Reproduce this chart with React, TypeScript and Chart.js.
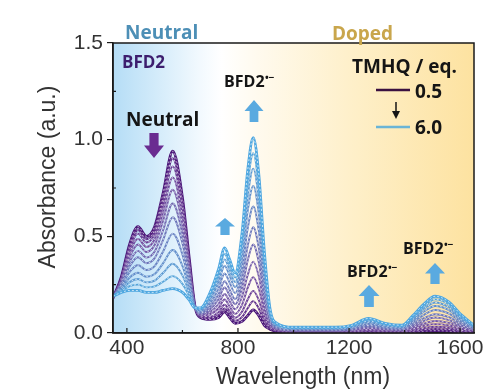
import React, { useEffect, useRef } from 'react';
import { Chart, registerables } from 'chart.js';

Chart.register(...registerables);

// Wavelength grid (nm)
const wavelengths = [350, 380, 410, 440, 470, 500, 530, 565, 600, 625, 645, 665, 700, 730, 752, 770, 790, 815, 835, 855, 875, 895, 915, 940, 1000, 1150, 1210, 1270, 1330, 1390, 1430, 1470, 1510, 1560, 1600, 1650];

// Absorbance spectra for TMHQ equivalents 0.5 ... 6.0
const eq05 = [0.18, 0.29, 0.46, 0.55, 0.50, 0.55, 0.72, 0.94, 0.70, 0.38, 0.14, 0.08, 0.07, 0.08, 0.11, 0.08, 0.05, 0.06, 0.09, 0.12, 0.09, 0.04, 0.02, 0.01, 0.005, 0.005, 0.005, 0.005, 0.005, 0.005, 0.005, 0.01, 0.012, 0.01, 0.005, 0.005];
const eq10 = [0.18, 0.286, 0.448, 0.533, 0.485, 0.533, 0.695, 0.904, 0.675, 0.369, 0.14, 0.083, 0.077, 0.093, 0.127, 0.095, 0.063, 0.083, 0.128, 0.165, 0.127, 0.059, 0.026, 0.012, 0.006, 0.006, 0.007, 0.009, 0.007, 0.007, 0.009, 0.017, 0.021, 0.018, 0.01, 0.007];
const eq15 = [0.18, 0.281, 0.434, 0.514, 0.468, 0.513, 0.665, 0.862, 0.646, 0.357, 0.139, 0.086, 0.085, 0.108, 0.146, 0.113, 0.079, 0.111, 0.173, 0.218, 0.17, 0.082, 0.032, 0.014, 0.008, 0.008, 0.009, 0.013, 0.01, 0.009, 0.014, 0.025, 0.032, 0.027, 0.015, 0.009];
const eq20 = [0.18, 0.275, 0.414, 0.487, 0.445, 0.485, 0.625, 0.805, 0.607, 0.34, 0.138, 0.09, 0.097, 0.128, 0.173, 0.137, 0.099, 0.147, 0.233, 0.289, 0.229, 0.112, 0.041, 0.018, 0.01, 0.01, 0.012, 0.018, 0.014, 0.012, 0.021, 0.037, 0.046, 0.039, 0.023, 0.012];
const eq25 = [0.18, 0.268, 0.393, 0.458, 0.419, 0.455, 0.58, 0.741, 0.563, 0.321, 0.137, 0.094, 0.109, 0.15, 0.202, 0.164, 0.123, 0.189, 0.30, 0.369, 0.294, 0.146, 0.051, 0.021, 0.012, 0.012, 0.015, 0.025, 0.018, 0.015, 0.029, 0.049, 0.062, 0.052, 0.032, 0.015];
const eq30 = [0.18, 0.26, 0.369, 0.425, 0.39, 0.421, 0.53, 0.67, 0.514, 0.30, 0.136, 0.099, 0.123, 0.175, 0.235, 0.194, 0.149, 0.235, 0.375, 0.458, 0.367, 0.184, 0.062, 0.025, 0.014, 0.014, 0.018, 0.032, 0.022, 0.018, 0.037, 0.063, 0.08, 0.067, 0.041, 0.018];
const eq35 = [0.19, 0.252, 0.345, 0.392, 0.361, 0.387, 0.48, 0.599, 0.465, 0.279, 0.135, 0.104, 0.137, 0.20, 0.268, 0.224, 0.175, 0.281, 0.45, 0.547, 0.44, 0.222, 0.073, 0.029, 0.017, 0.017, 0.022, 0.039, 0.027, 0.022, 0.046, 0.077, 0.097, 0.082, 0.051, 0.022];
const eq40 = [0.19, 0.242, 0.316, 0.352, 0.326, 0.346, 0.42, 0.514, 0.406, 0.254, 0.134, 0.11, 0.154, 0.23, 0.308, 0.26, 0.206, 0.336, 0.54, 0.654, 0.528, 0.268, 0.086, 0.034, 0.02, 0.02, 0.026, 0.047, 0.032, 0.026, 0.056, 0.094, 0.119, 0.10, 0.062, 0.026];
const eq45 = [0.19, 0.232, 0.287, 0.312, 0.291, 0.305, 0.36, 0.429, 0.347, 0.229, 0.133, 0.116, 0.171, 0.26, 0.348, 0.296, 0.237, 0.391, 0.63, 0.761, 0.616, 0.314, 0.099, 0.039, 0.023, 0.023, 0.03, 0.055, 0.037, 0.03, 0.066, 0.111, 0.14, 0.118, 0.073, 0.03];
const eq50 = [0.19, 0.224, 0.263, 0.279, 0.262, 0.271, 0.31, 0.358, 0.298, 0.208, 0.132, 0.121, 0.185, 0.285, 0.381, 0.326, 0.263, 0.437, 0.705, 0.85, 0.689, 0.352, 0.11, 0.043, 0.025, 0.025, 0.034, 0.062, 0.042, 0.034, 0.075, 0.125, 0.158, 0.133, 0.083, 0.034];
const eq55 = [0.19, 0.217, 0.242, 0.25, 0.236, 0.241, 0.265, 0.294, 0.254, 0.189, 0.131, 0.126, 0.197, 0.308, 0.41, 0.353, 0.287, 0.479, 0.773, 0.93, 0.754, 0.386, 0.12, 0.046, 0.028, 0.028, 0.037, 0.069, 0.046, 0.037, 0.082, 0.137, 0.174, 0.147, 0.091, 0.037];
const eq60 = [0.19, 0.21, 0.22, 0.22, 0.21, 0.21, 0.22, 0.23, 0.21, 0.17, 0.13, 0.13, 0.21, 0.33, 0.44, 0.38, 0.31, 0.52, 0.84, 1.01, 0.82, 0.42, 0.13, 0.05, 0.03, 0.03, 0.04, 0.075, 0.05, 0.04, 0.09, 0.15, 0.19, 0.16, 0.10, 0.04];

const seriesLabels = ['0.5', '1.0', '1.5', '2.0', '2.5', '3.0', '3.5', '4.0', '4.5', '5.0', '5.5', '6.0'];
const seriesValues = [eq05, eq10, eq15, eq20, eq25, eq30, eq35, eq40, eq45, eq50, eq55, eq60];
const seriesColors = ['#4a1578', '#5a2886', '#673a93', '#6f4a9d', '#7258a7', '#6e66b0', '#6a74b9', '#6581c2', '#5f8dca', '#5a99d2', '#54a3d9', '#4ea7e0'];

const xTickValues = [400, 800, 1200, 1600];
const xMinorValues = [600, 1000, 1400];
const yTickValues = [0, 0.5, 1.0, 1.5];
const yMinorValues = [0.25, 0.75, 1.25];

const SANS = '"Liberation Sans", Arial, sans-serif';
const BOLD = '"Open Sans", "Noto Sans", sans-serif';

function upArrow(ctx: CanvasRenderingContext2D, cx: number, top: number, bottom: number, w: number, color: string) {
  const h = bottom - top;
  const headH = h * 0.5;
  const shaft = w * 0.46;
  ctx.fillStyle = color;
  ctx.beginPath();
  ctx.moveTo(cx, top);
  ctx.lineTo(cx + w / 2, top + headH);
  ctx.lineTo(cx + shaft / 2, top + headH);
  ctx.lineTo(cx + shaft / 2, bottom);
  ctx.lineTo(cx - shaft / 2, bottom);
  ctx.lineTo(cx - shaft / 2, top + headH);
  ctx.lineTo(cx - w / 2, top + headH);
  ctx.closePath();
  ctx.fill();
}

function downArrow(ctx: CanvasRenderingContext2D, cx: number, top: number, bottom: number, w: number, color: string) {
  const h = bottom - top;
  const headH = h * 0.5;
  const shaft = w * 0.46;
  ctx.fillStyle = color;
  ctx.beginPath();
  ctx.moveTo(cx, bottom);
  ctx.lineTo(cx + w / 2, bottom - headH);
  ctx.lineTo(cx + shaft / 2, bottom - headH);
  ctx.lineTo(cx + shaft / 2, top);
  ctx.lineTo(cx - shaft / 2, top);
  ctx.lineTo(cx - shaft / 2, bottom - headH);
  ctx.lineTo(cx - w / 2, bottom - headH);
  ctx.closePath();
  ctx.fill();
}

function radical(ctx: CanvasRenderingContext2D, x: number, y: number) {
  ctx.fillStyle = '#151515';
  ctx.textAlign = 'left';
  ctx.textBaseline = 'alphabetic';
  ctx.font = `bold 16px ${BOLD}`;
  ctx.fillText('BFD2', x, y);
  const w = ctx.measureText('BFD2').width;
  ctx.font = `bold 10px ${BOLD}`;
  ctx.fillText('•−', x + w + 0.5, y - 6);
}

const decorPlugin = {
  id: 'decor',
  beforeDraw(chart: any) {
    const { ctx, chartArea: a } = chart;
    ctx.save();
    ctx.fillStyle = '#ffffff';
    ctx.fillRect(0, 0, chart.width, chart.height);
    const g = ctx.createLinearGradient(a.left, 0, a.right, 0);
    g.addColorStop(0, '#b5ddf6');
    g.addColorStop(0.12, '#d3ebfa');
    g.addColorStop(0.24, '#f2f9fe');
    g.addColorStop(0.3, '#ffffff');
    g.addColorStop(0.4, '#fffaee');
    g.addColorStop(0.65, '#fef0cb');
    g.addColorStop(1, '#fde2a0');
    ctx.fillStyle = g;
    ctx.fillRect(a.left, a.top, a.right - a.left, a.bottom - a.top);
    ctx.restore();
  },
  afterDraw(chart: any) {
    const { ctx, chartArea: a } = chart;
    const xs = chart.scales.x;
    const ys = chart.scales.y;
    ctx.save();
    // frame
    ctx.strokeStyle = '#1a1a1a';
    ctx.lineWidth = 1.5;
    ctx.strokeRect(a.left, a.top, a.right - a.left, a.bottom - a.top);
    // x ticks inward
    ctx.lineWidth = 1.2;
    ctx.beginPath();
    xTickValues.forEach((v) => {
      const p = xs.getPixelForValue(v);
      ctx.moveTo(p, a.bottom);
      ctx.lineTo(p, a.bottom - 5);
    });
    xMinorValues.forEach((v) => {
      const p = xs.getPixelForValue(v);
      ctx.moveTo(p, a.bottom);
      ctx.lineTo(p, a.bottom - 3);
    });
    yMinorValues.forEach((v) => {
      const p = ys.getPixelForValue(v);
      ctx.moveTo(a.left, p);
      ctx.lineTo(a.left + 3, p);
    });
    ctx.stroke();

    // axis titles
    ctx.fillStyle = '#333333';
    ctx.font = `23px ${SANS}`;
    ctx.textAlign = 'center';
    ctx.textBaseline = 'alphabetic';
    ctx.fillText('Wavelength (nm)', 303, 384);
    ctx.save();
    ctx.translate(55, 177);
    ctx.rotate(-Math.PI / 2);
    ctx.fillText('Absorbance (a.u.)', 0, 0);
    ctx.restore();

    // region labels
    ctx.textAlign = 'left';
    ctx.font = `bold 19px ${BOLD}`;
    ctx.fillStyle = '#4d8fb6';
    ctx.fillText('Neutral', 125, 39);
    ctx.fillStyle = '#c9a64c';
    ctx.fillText('Doped', 332, 40);

    ctx.font = `bold 17px ${BOLD}`;
    ctx.fillStyle = '#3d1e6e';
    ctx.fillText('BFD2', 122, 68);

    ctx.font = `bold 19px ${BOLD}`;
    ctx.fillStyle = '#151515';
    ctx.fillText('Neutral', 126, 126);

    radical(ctx, 224, 87);
    radical(ctx, 347, 277);
    radical(ctx, 403, 254);

    // arrows
    const blue = '#5aaae0';
    upArrow(ctx, 254, 100, 122, 19, blue);
    upArrow(ctx, 225, 218, 235, 20, blue);
    upArrow(ctx, 369, 285, 307, 21, blue);
    upArrow(ctx, 435, 263, 284, 20, blue);
    downArrow(ctx, 154, 133, 158, 20, '#6a2c91');

    // legend
    ctx.fillStyle = '#151515';
    ctx.font = `bold 19px ${BOLD}`;
    ctx.fillText('TMHQ / eq.', 352, 73);
    ctx.fillText(seriesLabels[0], 415, 98);
    ctx.fillText(seriesLabels[seriesLabels.length - 1], 415, 134);
    ctx.lineWidth = 2.5;
    ctx.strokeStyle = '#3a1040';
    ctx.beginPath();
    ctx.moveTo(376, 90);
    ctx.lineTo(410, 90);
    ctx.stroke();
    ctx.strokeStyle = '#6ab4d6';
    ctx.beginPath();
    ctx.moveTo(376, 127);
    ctx.lineTo(410, 127);
    ctx.stroke();
    // small down arrow
    ctx.strokeStyle = '#151515';
    ctx.lineWidth = 1.5;
    ctx.beginPath();
    ctx.moveTo(396, 102);
    ctx.lineTo(396, 113);
    ctx.stroke();
    ctx.fillStyle = '#151515';
    ctx.beginPath();
    ctx.moveTo(396, 119);
    ctx.lineTo(392, 111);
    ctx.lineTo(400, 111);
    ctx.closePath();
    ctx.fill();
    ctx.restore();
  },
};

export default function App() {
  const canvasRef = useRef<HTMLCanvasElement | null>(null);

  useEffect(() => {
    if (!canvasRef.current) return;
    const datasets: any[] = [];
    for (let i = seriesValues.length - 1; i >= 0; i--) {
      const pts = wavelengths.map((x, k) => ({ x, y: seriesValues[i][k] }));
      const outer = i === 0 || i === seriesValues.length - 1;
      datasets.push({
        label: seriesLabels[i] + '-hl',
        data: pts,
        borderColor: 'rgba(255,255,255,0.85)',
        borderWidth: 0.8,
        borderDash: [2, 2],
        pointRadius: 0,
        cubicInterpolationMode: 'monotone',
        fill: false,
      });
      datasets.push({
        label: seriesLabels[i],
        data: pts,
        borderColor: seriesColors[i],
        borderWidth: outer ? 2.8 : 1.9,
        pointRadius: 0,
        cubicInterpolationMode: 'monotone',
        fill: false,
      });
    }
    const chart = new Chart(canvasRef.current, {
      type: 'line',
      data: { datasets },
      options: {
        animation: false,
        responsive: true,
        maintainAspectRatio: false,
        layout: { padding: { left: 0, top: 43, right: 19, bottom: 0 } },
        plugins: { legend: { display: false }, tooltip: { enabled: false } },
        scales: {
          x: {
            type: 'linear',
            min: 350,
            max: 1650,
            afterBuildTicks: (s: any) => {
              s.ticks = xTickValues.map((v) => ({ value: v }));
            },
            afterFit: (s: any) => {
              s.height = 59;
            },
            grid: { drawOnChartArea: false, drawTicks: false },
            border: { display: true, color: '#1a1a1a', width: 1.5 },
            ticks: {
              padding: 3,
              color: '#333333',
              font: { family: SANS, size: 21 },
              maxRotation: 0,
              autoSkip: false,
              callback: (v: any) => String(v),
            },
          },
          y: {
            type: 'linear',
            min: 0,
            max: 1.5,
            afterBuildTicks: (s: any) => {
              s.ticks = yTickValues.map((v) => ({ value: v }));
            },
            afterFit: (s: any) => {
              s.width = 113;
            },
            grid: { drawOnChartArea: false, drawTicks: true, tickLength: 6, color: '#1a1a1a', lineWidth: 1.2 },
            border: { display: true, color: '#1a1a1a', width: 1.5 },
            ticks: {
              padding: 4,
              color: '#333333',
              font: { family: SANS, size: 21 },
              callback: (v: any) => Number(v).toFixed(1),
            },
          },
        },
      },
      plugins: [decorPlugin],
    });
    return () => chart.destroy();
  }, []);

  return (
    <div style={{ position: 'absolute', left: 0, top: 0, width: 493, height: 392 }}>
      <canvas ref={canvasRef} />
    </div>
  );
}
